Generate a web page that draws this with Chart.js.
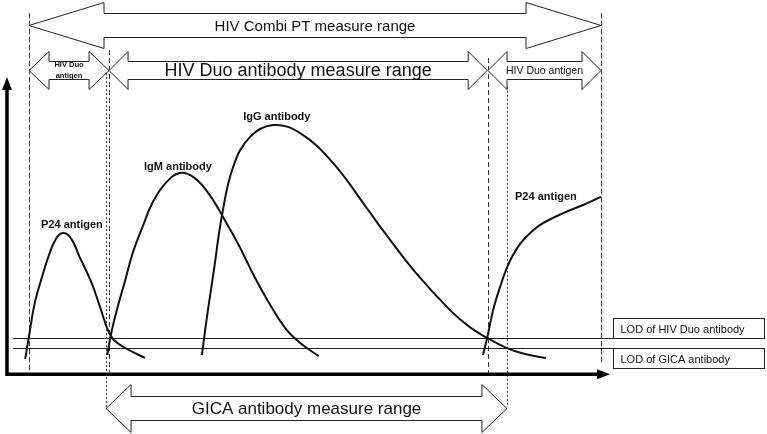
<!DOCTYPE html>
<html>
<head>
<meta charset="utf-8">
<script src="https://cdn.jsdelivr.net/npm/chart.js@4"></script>
<style>
  html, body { margin: 0; padding: 0; background: #fff; }
  #chart { display: block; }
</style>
</head>
<body>
<canvas id="chart" width="767" height="434"></canvas>
<script>
'use strict';

// ── Curves (x = time after infection, y = marker level, arbitrary units) ──
const P24_EARLY_X = [3.2, 4.0, 4.8, 6.0, 7.3, 8.3, 9.3, 10.7, 12.3, 14.3, 15.7, 17.0, 18.0, 20.2, 23.2];
const P24_EARLY_Y = [5.0, 14.7, 23.8, 32.4, 40.5, 45.1, 47.1, 45.8, 39.1, 30.4, 22.4, 14.7, 11.4, 8.4, 5.4];

const IGM_X = [16.9, 17.5, 18.5, 19.9, 21.2, 22.9, 24.5, 26.5, 29.0, 31.5, 34.0, 36.5, 39.0, 41.5, 44.1, 46.6, 49.1, 52.2];
const IGM_Y = [6.4, 13.1, 21.4, 31.4, 40.8, 49.8, 57.5, 63.5, 67.2, 65.5, 59.8, 51.5, 42.5, 32.4, 23.1, 15.4, 10.4, 6.0];

const IGG_X = [32.7, 33.2, 33.7, 34.7, 36.0, 37.9, 40.7, 44.6, 49.1, 54.6, 60.2, 63.1, 68.4, 74.1, 77.4, 80.3, 83.6, 86.6, 90.1];
const IGG_Y = [6.4, 14.1, 21.4, 34.8, 52.5, 69.2, 79.2, 83.2, 80.5, 70.5, 55.5, 47.5, 33.8, 21.4, 15.7, 12.1, 8.7, 6.7, 5.4];

const P24_LATE_X = [79.6, 80.3, 81.3, 82.4, 83.8, 85.3, 86.8, 89.1, 93.0, 96.3, 99.3];
const P24_LATE_Y = [6.4, 12.1, 21.4, 28.8, 36.5, 42.1, 45.8, 49.8, 53.8, 56.5, 59.2];

const CURVE_NAMES = ['P24 antigen', 'IgM antibody', 'IgG antibody', 'P24 antigen'];

// ── Detection limits ──
const LOD_LEVELS = [12.06, 8.72];
const LOD_NAMES  = ['LOD of HIV Duo antibody', 'LOD of GICA antibody'];

// ── Measure ranges (start / end on the time axis) ──
const RANGE_NAMES = [
  'HIV Combi PT measure range',
  ['HIV Duo', 'antigen'],
  'HIV Duo antibody measure range',
  'HIV Duo antigen',
  'GICA antibody measure range',
];
const RANGE_START = [3.84, 3.84, 17.2, 80.44, 16.7];
const RANGE_END   = [99.3, 17.2, 80.3, 99.3, 83.6];

// ── Boundary markers on the time axis ──
const MARKER_X = [3.84, 17.19, 16.69, 80.44, 83.61, 99.3];

// ── Layout / style (not data) ──
const FONT = '"Liberation Sans", Arial, Helvetica, sans-serif';

const LABEL_POS = [
  { x: 11.0, y: 49.8 },
  { x: 28.7, y: 69.2 },
  { x: 45.2, y: 85.9 },
  { x: 90.1, y: 59.2 },
];

const RANGE_STYLE = [
  { level: 116.6, shaft: 12, head: 23, len: 75, font: '15px ' + FONT },
  { level: 101.6, shaft: 9,  head: 19, len: 20, font: 'bold 7.5px ' + FONT, lineGap: 11 },
  { level: 101.6, shaft: 9,  head: 19, len: 19, font: '18px ' + FONT },
  { level: 101.6, shaft: 9,  head: 19, len: 19, font: '10.5px ' + FONT },
  { level: -11.3, shaft: 12, head: 24, len: 25, font: '17px ' + FONT },
];

const MARKER_STYLE = [
  { top: 120.6, bottom: 0.7,   dash: [5, 3] },
  { top: 108.3, bottom: 0.7,   dash: [5, 3] },
  { top: 100.6, bottom: -11.0, dash: [2, 2] },
  { top: 105.6, bottom: -1.3,  dash: [5, 3] },
  { top: 96.0,  bottom: -11.0, dash: [2, 2] },
  { top: 120.6, bottom: 3.0,   dash: [5, 3] },
];

const LOD_LINE = { from: 1.17, to: 101.3 };
const LOD_BOX  = { right: 126.5, h: 20 };
const AXIS     = { xTip: 100.8, yTip: 99.3 };

// ── Helpers ──
const pts = (xs, ys) => xs.map((x, i) => ({ x, y: ys[i] }));
const crisp = v => Math.round(v) + 0.5;

function curve(xs, ys) {
  return {
    data: pts(xs, ys),
    showLine: true,
    borderColor: '#111',
    borderWidth: 2,
    pointRadius: 0,
    tension: 0.4,
    fill: false,
  };
}

function drawArrow(ctx, x0, x1, y, s) {
  const { shaft, head, len } = s;
  ctx.beginPath();
  ctx.moveTo(x0, y);
  ctx.lineTo(x0 + len, y - head);
  ctx.lineTo(x0 + len, y - shaft);
  ctx.lineTo(x1 - len, y - shaft);
  ctx.lineTo(x1 - len, y - head);
  ctx.lineTo(x1, y);
  ctx.lineTo(x1 - len, y + head);
  ctx.lineTo(x1 - len, y + shaft);
  ctx.lineTo(x0 + len, y + shaft);
  ctx.lineTo(x0 + len, y + head);
  ctx.closePath();
  ctx.fillStyle = '#fff';
  ctx.fill();
  ctx.lineWidth = 1;
  ctx.strokeStyle = '#222';
  ctx.stroke();
}

// ── Diagram plugin: markers, LOD lines, axes, ranges, labels ──
const diagramPlugin = {
  id: 'diagram',
  beforeDatasetsDraw(chart) {
    const { ctx, scales: { x, y } } = chart;
    ctx.save();

    // dashed boundary markers
    ctx.lineWidth = 1;
    ctx.strokeStyle = '#333';
    MARKER_X.forEach((mx, i) => {
      const st = MARKER_STYLE[i];
      const px = crisp(x.getPixelForValue(mx));
      ctx.setLineDash(st.dash);
      ctx.beginPath();
      ctx.moveTo(px, y.getPixelForValue(st.top));
      ctx.lineTo(px, y.getPixelForValue(st.bottom));
      ctx.stroke();
    });
    ctx.setLineDash([]);

    // LOD lines
    ctx.strokeStyle = '#222';
    LOD_LEVELS.forEach(v => {
      const py = crisp(y.getPixelForValue(v));
      ctx.beginPath();
      ctx.moveTo(x.getPixelForValue(LOD_LINE.from), py);
      ctx.lineTo(x.getPixelForValue(LOD_LINE.to), py);
      ctx.stroke();
    });
    ctx.restore();
  },
  afterDatasetsDraw(chart) {
    const { ctx, scales: { x, y } } = chart;
    ctx.save();

    // axes
    const ox = x.getPixelForValue(0) + 1;
    const oy = y.getPixelForValue(0);
    const xt = x.getPixelForValue(AXIS.xTip);
    const yt = y.getPixelForValue(AXIS.yTip);
    ctx.strokeStyle = '#000';
    ctx.fillStyle = '#000';
    ctx.lineWidth = 3.5;
    ctx.beginPath();
    ctx.moveTo(ox, yt + 10);
    ctx.lineTo(ox, oy);
    ctx.lineTo(xt - 10, oy);
    ctx.stroke();
    ctx.beginPath();
    ctx.moveTo(ox, yt);
    ctx.lineTo(ox - 5, yt + 13);
    ctx.lineTo(ox + 5, yt + 13);
    ctx.closePath();
    ctx.fill();
    ctx.beginPath();
    ctx.moveTo(xt, oy);
    ctx.lineTo(xt - 13, oy - 5);
    ctx.lineTo(xt - 13, oy + 5);
    ctx.closePath();
    ctx.fill();

    // measure range arrows
    RANGE_NAMES.forEach((name, i) => {
      const st = RANGE_STYLE[i];
      const x0 = x.getPixelForValue(RANGE_START[i]);
      const x1 = x.getPixelForValue(RANGE_END[i]);
      const py = crisp(y.getPixelForValue(st.level));
      drawArrow(ctx, x0, x1, py, st);
      ctx.fillStyle = '#111';
      ctx.font = st.font;
      ctx.textAlign = 'center';
      ctx.textBaseline = 'middle';
      const cx = (x0 + x1) / 2;
      if (Array.isArray(name)) {
        name.forEach((line, k) => {
          ctx.fillText(line, cx, py + (k - (name.length - 1) / 2) * st.lineGap);
        });
      } else {
        ctx.fillText(name, cx, py + 1);
      }
    });

    // curve labels
    ctx.font = 'bold 11px ' + FONT;
    ctx.fillStyle = '#111';
    ctx.textAlign = 'center';
    ctx.textBaseline = 'middle';
    CURVE_NAMES.forEach((n, i) => {
      ctx.fillText(n, x.getPixelForValue(LABEL_POS[i].x), y.getPixelForValue(LABEL_POS[i].y));
    });

    // LOD label boxes
    ctx.lineWidth = 1;
    ctx.strokeStyle = '#222';
    ctx.font = '11px ' + FONT;
    ctx.textAlign = 'left';
    const bx0 = crisp(x.getPixelForValue(LOD_LINE.to));
    const bx1 = crisp(x.getPixelForValue(LOD_BOX.right));
    LOD_NAMES.forEach((n, i) => {
      const py = crisp(y.getPixelForValue(LOD_LEVELS[i]));
      const top = i === 0 ? py - LOD_BOX.h : py;
      ctx.strokeRect(bx0, top, bx1 - bx0, LOD_BOX.h);
      ctx.fillText(n, bx0 + 7, top + LOD_BOX.h / 2 + 1);
    });
    ctx.restore();
  },
};

// ── Chart ──
const chart = new Chart(document.getElementById('chart'), {
  type: 'scatter',
  data: {
    datasets: [
      curve(P24_EARLY_X, P24_EARLY_Y),
      curve(IGM_X, IGM_Y),
      curve(IGG_X, IGG_Y),
      curve(P24_LATE_X, P24_LATE_Y),
    ],
  },
  options: {
    responsive: false,
    animation: false,
    devicePixelRatio: 1,
    layout: { padding: 0 },
    scales: {
      x: { type: 'linear', min: -1, max: 127, display: false },
      y: { type: 'linear', min: -20, max: 125, display: false },
    },
    plugins: {
      legend: { display: false },
      tooltip: { enabled: false },
    },
  },
  plugins: [diagramPlugin],
});
</script>
</body>
</html>
